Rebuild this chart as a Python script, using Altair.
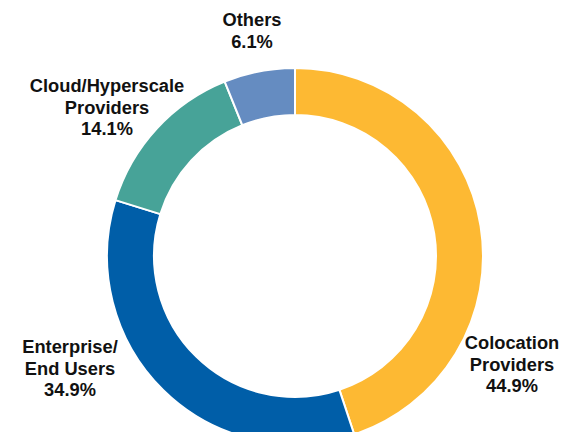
import altair as alt
import pandas as pd

categories = ["Colocation Providers", "Enterprise/ End Users", "Cloud/Hyperscale Providers", "Others"]
label_lines = ["Colocation\nProviders", "Enterprise/\nEnd Users", "Cloud/Hyperscale\nProviders", "Others"]
shares = [44.9, 34.9, 14.1, 6.1]
colors = ["#FDB933", "#005EA8", "#47A398", "#658CC1"]

# layout (pixels, chart coordinates; label y = first line centre)
CX, CY = 287, 248
R_OUT, R_IN = 188, 141
label_pos = [(504, 336), (62, 340), (99, 79), (244, 13)]

df = pd.DataFrame({
    "category": categories,
    "share": shares,
    "order": list(range(len(categories))),
    "label": [f"{l}\n{v:.1f}%" for l, v in zip(label_lines, shares)],
})

arc = alt.Chart(df).mark_arc(
    innerRadius=R_IN, outerRadius=R_OUT, stroke="white", strokeWidth=2
).encode(
    theta=alt.Theta("share:Q", stack=True),
    order=alt.Order("order:Q"),
    color=alt.Color("category:N", scale=alt.Scale(domain=categories, range=colors), legend=None),
    x=alt.value(CX),
    y=alt.value(CY),
)

layers = [arc]
for i, cat in enumerate(categories):
    px, py = label_pos[i]
    t = alt.Chart(df).transform_filter(alt.datum.category == cat).mark_text(
        font="Liberation Sans", fontWeight="bold", fontSize=18.3, lineBreak="\n",
        lineHeight=21.5, align="center", baseline="middle", color="#111111"
    ).encode(
        text="label:N",
        x=alt.value(px),
        y=alt.value(py),
    )
    layers.append(t)

chart = alt.layer(*layers).properties(
    width=552, height=424, padding=0, autosize=alt.AutoSizeParams(type="none")
).configure_view(stroke=None)

chart.save("out.html", embed_options={"renderer": "svg", "actions": False})
